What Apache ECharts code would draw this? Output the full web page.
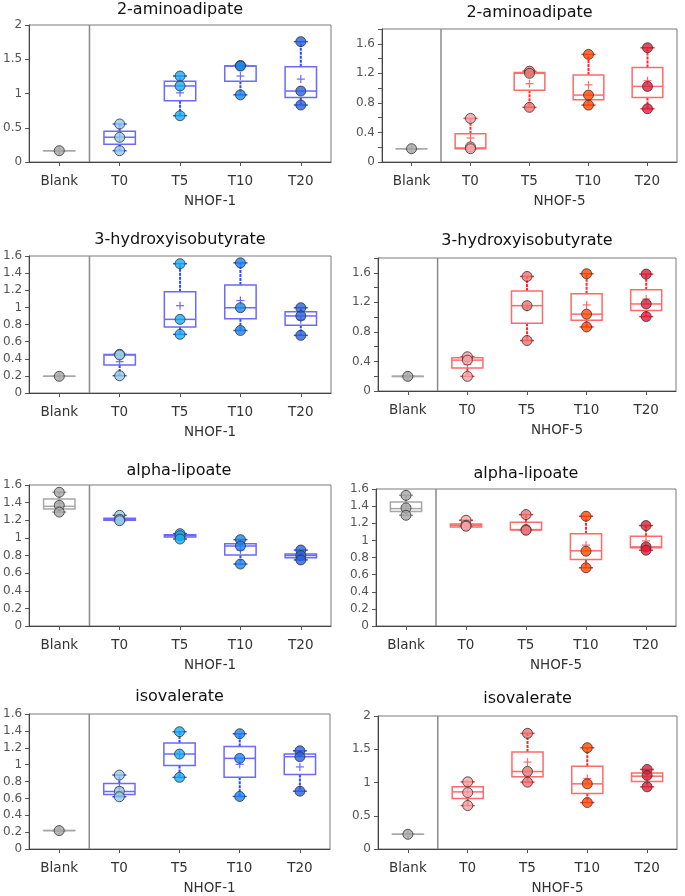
<!DOCTYPE html>
<html><head><meta charset="utf-8">
<script src="https://cdn.jsdelivr.net/npm/echarts@6/dist/echarts.min.js"></script>
<style>html,body{margin:0;padding:0;background:#fff}#c{width:685px;height:896px}</style>
</head><body><div id="c"></div><script>
const categories = ['Blank', 'T0', 'T5', 'T10', 'T20'];
const panelTitles = ['2-aminoadipate', '2-aminoadipate', '3-hydroxyisobutyrate', '3-hydroxyisobutyrate', 'alpha-lipoate', 'alpha-lipoate', 'isovalerate', 'isovalerate'];
const groupNames = ['NHOF-1', 'NHOF-5', 'NHOF-1', 'NHOF-5', 'NHOF-1', 'NHOF-5', 'NHOF-1', 'NHOF-5'];
const yMaxValues = [2, 1.8, 1.6, 1.8, 1.6, 1.6, 1.6, 2];
const yIntervals = [0.5, 0.2, 0.2, 0.2, 0.2, 0.2, 0.2, 0.5];
const yLabelEvery = [1, 2, 1, 2, 1, 1, 1, 1];

// 2-aminoadipate, NHOF-1
const amino1Points = [[0.165], [0.555, 0.36, 0.165], [1.255, 1.11, 0.676], [1.41, 1.40, 0.98], [1.757, 1.036, 0.832]];
const amino1Q1 = [0.165, 0.26, 0.895, 1.18, 0.94];
const amino1Median = [0.165, 0.36, 1.11, 1.40, 1.036];
const amino1Q3 = [0.165, 0.45, 1.18, 1.40, 1.39];
const amino1Mean = [0.165, 0.36, 1.01, 1.255, 1.21];
// 2-aminoadipate, NHOF-5
const amino5Points = [[0.18], [0.59, 0.205, 0.18], [1.23, 1.20, 0.74], [1.456, 0.906, 0.77], [1.546, 1.023, 0.72]];
const amino5Q1 = [0.18, 0.18, 0.97, 0.843, 0.874];
const amino5Median = [0.18, 0.19, 1.20, 0.906, 1.023];
const amino5Q3 = [0.18, 0.383, 1.21, 1.176, 1.28];
const amino5Mean = [0.18, 0.325, 1.06, 1.044, 1.10];
// 3-hydroxyisobutyrate, NHOF-1
const hib1Points = [[0.195], [0.452, 0.444, 0.202], [1.51, 0.86, 0.685], [1.52, 0.996, 0.73], [0.996, 0.90, 0.673]];
const hib1Q1 = [0.195, 0.327, 0.77, 0.868, 0.79];
const hib1Median = [0.195, 0.444, 0.86, 0.996, 0.90];
const hib1Q3 = [0.195, 0.45, 1.183, 1.26, 0.95];
const hib1Mean = [0.195, 0.366, 1.02, 1.08, 0.856];
// 3-hydroxyisobutyrate, NHOF-5
const hib5Points = [[0.198], [0.463, 0.418, 0.198], [1.55, 1.155, 0.683], [1.587, 1.04, 0.867], [1.582, 1.178, 1.007]];
const hib5Q1 = [0.198, 0.31, 0.917, 0.957, 1.088];
const hib5Median = [0.198, 0.418, 1.155, 1.04, 1.178];
const hib5Q3 = [0.198, 0.45, 1.353, 1.317, 1.37];
const hib5Mean = [0.198, 0.36, 1.129, 1.165, 1.245];
// alpha-lipoate, NHOF-1
const lip1Points = [[1.517, 1.369, 1.293], [1.256, 1.21, 1.195], [1.048, 1.025, 0.987], [0.98, 0.908, 0.703], [0.862, 0.80, 0.75]];
const lip1Q1 = [1.327, 1.199, 1.01, 0.806, 0.775];
const lip1Median = [1.358, 1.21, 1.025, 0.908, 0.80];
const lip1Q3 = [1.44, 1.222, 1.036, 0.934, 0.817];
const lip1Mean = [1.393, 1.22, 1.02, 0.864, 0.804];
// alpha-lipoate, NHOF-5
const lip5Points = [[1.526, 1.379, 1.293], [1.235, 1.177, 1.165], [1.301, 1.126, 1.118], [1.282, 0.874, 0.68], [1.173, 0.924, 0.885]];
const lip5Q1 = [1.336, 1.157, 1.122, 0.777, 0.913];
const lip5Median = [1.371, 1.177, 1.126, 0.878, 0.924];
const lip5Q3 = [1.449, 1.192, 1.212, 1.076, 1.049];
const lip5Mean = [1.399, 1.19, 1.165, 0.945, 0.994];
// isovalerate, NHOF-1
const iso1Points = [[0.218], [0.876, 0.685, 0.619], [1.39, 1.125, 0.849], [1.366, 1.074, 0.623], [1.164, 1.094, 0.685]];
const iso1Q1 = [0.218, 0.646, 0.989, 0.849, 0.884];
const iso1Median = [0.218, 0.681, 1.125, 1.074, 1.094];
const iso1Q3 = [0.218, 0.775, 1.257, 1.214, 1.125];
const iso1Mean = [0.218, 0.727, 1.121, 1.004, 0.973];
// isovalerate, NHOF-5
const iso5Points = [[0.221], [1.01, 0.849, 0.653], [1.739, 1.166, 1.005], [1.523, 0.98, 0.698], [1.196, 1.106, 0.935]];
const iso5Q1 = [0.221, 0.759, 1.085, 0.834, 1.015];
const iso5Median = [0.221, 0.859, 1.166, 0.98, 1.095];
const iso5Q3 = [0.221, 0.935, 1.457, 1.246, 1.141];
const iso5Mean = [0.221, 0.854, 1.307, 1.06, 1.08];

const panelData = [
  [amino1Points, amino1Q1, amino1Median, amino1Q3, amino1Mean],
  [amino5Points, amino5Q1, amino5Median, amino5Q3, amino5Mean],
  [hib1Points, hib1Q1, hib1Median, hib1Q3, hib1Mean],
  [hib5Points, hib5Q1, hib5Median, hib5Q3, hib5Mean],
  [lip1Points, lip1Q1, lip1Median, lip1Q3, lip1Mean],
  [lip5Points, lip5Q1, lip5Median, lip5Q3, lip5Mean],
  [iso1Points, iso1Q1, iso1Median, iso1Q3, iso1Mean],
  [iso5Points, iso5Q1, iso5Median, iso5Q3, iso5Mean]
];

// layout (pixels)
const gridLayout = [
  {left: 29, top: 25, width: 302, height: 137},
  {left: 382, top: 29, width: 295, height: 133},
  {left: 29, top: 256, width: 302, height: 137},
  {left: 378, top: 258, width: 298, height: 133},
  {left: 27, top: 485, width: 304, height: 141},
  {left: 376, top: 489, width: 300, height: 137},
  {left: 29, top: 714, width: 301, height: 137},
  {left: 378, top: 716, width: 299, height: 133}
];
const titleTops = [2, 5, 232, 233, 463, 466, 689, 691];

const FONT = 'DejaVu Sans';
const schemes = {
  blue: {points: ['#a6a6a6', '#93c9e9', '#14aef5', '#1a84f0', '#2a62e0'], box: '#6a6aff', whisker: '#2a4cff'},
  red: {points: ['#a6a6a6', '#f5a3a3', '#f07373', '#ff4800', '#dc1e3c'], box: '#ff6a6a', whisker: '#ff2a2a'}
};
const GRAY_BOX = '#a8a8a8', GRAY_WHISKER = '#9a9a9a';

function boxRenderer(scheme) {
  return function (params, api) {
    const i = api.value(0);
    const band = api.size([1, 0])[0];
    const hw = band * 0.26;
    const cx = api.coord([i, 0])[0];
    const y = v => api.coord([i, v])[1];
    const isBlank = i === 0;
    const bc = isBlank ? GRAY_BOX : scheme.box;
    const wc = isBlank ? GRAY_WHISKER : scheme.whisker;
    const yQ1 = y(api.value(1)), yMed = y(api.value(2)), yQ3 = y(api.value(3));
    const yMean = y(api.value(4)), yMin = y(api.value(5)), yMx = y(api.value(6));
    const ws = {stroke: wc, lineWidth: 2, lineDash: [3, 1]};
    const cs = {stroke: wc, lineWidth: 1.5};
    const children = [
      {type: 'line', shape: {x1: cx, y1: yQ3, x2: cx, y2: yMx}, style: ws},
      {type: 'line', shape: {x1: cx, y1: yQ1, x2: cx, y2: yMin}, style: ws},
      {type: 'line', shape: {x1: cx - 7, y1: yMx, x2: cx + 7, y2: yMx}, style: cs},
      {type: 'line', shape: {x1: cx - 7, y1: yMin, x2: cx + 7, y2: yMin}, style: cs},
      {type: 'rect', shape: {x: cx - hw, y: yQ3, width: 2 * hw, height: Math.max(yQ1 - yQ3, 0.01)}, style: {fill: 'rgba(255,255,255,0)', stroke: bc, lineWidth: 1.5}},
      {type: 'line', shape: {x1: cx - hw, y1: yMed, x2: cx + hw, y2: yMed}, style: {stroke: bc, lineWidth: 1.5}},
      {type: 'line', shape: {x1: cx - 4, y1: yMean, x2: cx + 4, y2: yMean}, style: {stroke: bc, lineWidth: 1.2}},
      {type: 'line', shape: {x1: cx, y1: yMean - 4, x2: cx, y2: yMean + 4}, style: {stroke: bc, lineWidth: 1.2}}
    ];
    if (isBlank) {
      const cs2 = params.coordSys;
      const sx = cx + band / 2;
      children.push({type: 'line', shape: {x1: sx, y1: cs2.y, x2: sx, y2: cs2.y + cs2.height}, style: {stroke: '#8a8a8a', lineWidth: 1.5}});
    }
    return {type: 'group', children};
  };
}

const option = {animation: false, backgroundColor: '#fff', title: [], grid: [], xAxis: [], yAxis: [], series: []};

panelData.forEach((pd, k) => {
  const [points, q1, med, q3, mean] = pd;
  const scheme = k % 2 === 0 ? schemes.blue : schemes.red;
  const g = gridLayout[k];
  option.grid.push({left: g.left, top: g.top, width: g.width, height: g.height, show: true, borderColor: '#7a7a7a', borderWidth: 1, containLabel: false});
  option.title.push({text: panelTitles[k], left: g.left + g.width / 2, top: titleTops[k], textAlign: 'center', padding: 0,
    textStyle: {fontFamily: FONT, fontSize: 16, fontWeight: 'normal', color: '#111'}});
  option.xAxis.push({type: 'category', gridIndex: k, data: categories, boundaryGap: true,
    axisLine: {show: true, lineStyle: {color: '#444', width: 1}},
    axisTick: {show: true, alignWithLabel: true, length: 4, lineStyle: {color: '#555'}},
    axisLabel: {fontFamily: FONT, fontSize: 13.5, color: '#333', margin: 12},
    splitLine: {show: false},
    name: groupNames[k], nameLocation: 'middle', nameGap: 32,
    nameTextStyle: {fontFamily: FONT, fontSize: 13.5, color: '#333', padding: [0, 0, 0, 60]}});
  const step = yLabelEvery[k], itv = yIntervals[k];
  option.yAxis.push({type: 'value', gridIndex: k, min: 0, max: yMaxValues[k], interval: itv,
    axisLine: {show: true, lineStyle: {color: '#444', width: 1}},
    axisTick: {show: true, length: 4, lineStyle: {color: '#555'}},
    axisLabel: {fontFamily: FONT, fontSize: 12, color: '#555', margin: 7,
      formatter: v => (Math.round(v / itv) % step === 0 ? String(+v.toFixed(2)) : '')},
    splitLine: {show: false}});
  const boxData = categories.map((c, i) => [i, q1[i], med[i], q3[i], mean[i], Math.min(...points[i]), Math.max(...points[i])]);
  option.series.push({type: 'custom', xAxisIndex: k, yAxisIndex: k, renderItem: boxRenderer(scheme), data: boxData, z: 2,
    encode: {x: 0, y: [1, 2, 3, 4, 5, 6]}});
  const pts = [];
  points.forEach((arr, i) => arr.forEach(v => pts.push([i, v])));
  option.series.push({type: 'scatter', xAxisIndex: k, yAxisIndex: k, data: pts, symbolSize: 10, z: 3,
    itemStyle: {color: p => scheme.points[p.value[0]], borderColor: '#333', borderWidth: 1}});
});

const chart = echarts.init(document.getElementById('c'), null, {renderer: 'canvas'});
chart.setOption(option);
</script></body></html>
